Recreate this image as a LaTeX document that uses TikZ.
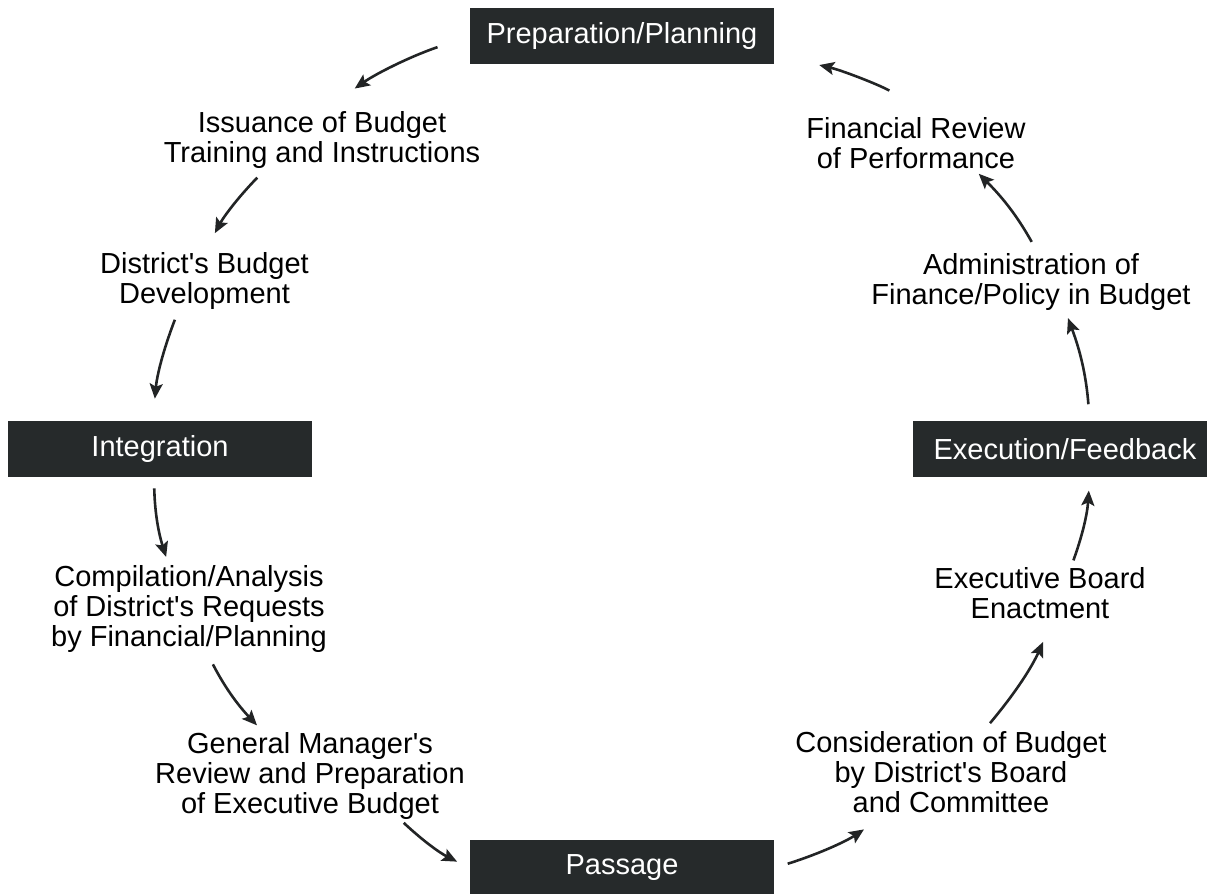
\documentclass[tikz,border=0pt]{standalone}
\usepackage{fontspec}
\setmainfont{Liberation Sans}
\usetikzlibrary{arrows.meta}
\definecolor{stage_fill}{RGB}{38, 42, 43}
\definecolor{flow_line}{RGB}{34, 36, 37}
\tikzstyle{stg}=[fill=stage_fill,text=white,inner sep=0pt,
  minimum width=152pt,minimum height=28pt]
\tikzstyle{tsk}=[align=center,inner sep=0pt]
\tikzstyle{flw}=[draw=flow_line,line width=1.3pt,
  -{Stealth[length=7.5pt,width=6.5pt,inset=1.5pt]},bend right=8]
\newcommand{\apo}{\textquotesingle}

\begin{document}
\begin{tikzpicture}[x=5pt, y=-5pt, every node/.style={font=\fontsize{14.5pt}{15pt}\selectfont}]
        \useasboundingbox (0, 0) rectangle (120.7, 89.4);
        \clip (0, 0) rectangle (120.7, 89.4);
        \node[style=stg] (0) at (62.2, 3.6) {Preparation/Planning};
		\node[style=tsk] (1) at (32.2, 14.05) {Issuance of Budget\\Training and Instructions};
		\node[style=tsk] (2) at (20.45, 28.15) {District\apo s Budget\\Development};
		\node[style=stg] (3) at (16.0, 44.9) {Integration};
		\node[style=tsk] (4) at (18.9, 60.85) {Compilation/Analysis\\of District\apo s Requests\\by Financial/Planning};
		\node[style=tsk] (5) at (31.0, 77.55) {General Manager\apo s\\Review and Preparation\\of Executive Budget};
		\node[style=stg] (6) at (62.2, 86.8) {Passage};
		\node[style=tsk] (7) at (95.1, 77.25) {Consideration of Budget\\by District\apo s Board\\and Committee};
		\node[style=tsk] (8) at (104.0, 59.3) {Executive Board\\Enactment};
		\node[style=stg] (9) at (106.5, 44.9) {Execution/Feedback};
		\node[style=tsk] (10) at (103.1, 28.25) {Administration of\\Finance/Policy in Budget};
		\node[style=tsk] (11) at (91.6, 14.35) {Financial Review\\of Performance};
        % arrows round the cycle
		\draw [style=flw, shorten <=17pt, shorten >=20pt] (0.west) to (1.north);
		\draw [style=flw, shorten <=5.7pt, shorten >=11pt] (1.207) to (2.north);
		\draw [style=flw, shorten <=5pt, shorten >=11pt] (2.228) to (3.104);
		\draw [style=flw, shorten <=5.5pt, shorten >=4pt] (3.258) to (4.115);
		\draw [style=flw, shorten <=6.7pt, shorten >=4.3pt] (4.292) to (5.137);
		\draw [style=flw, shorten <=2.5pt, shorten >=7pt] (5.334) to (6.west);
		\draw [style=flw, shorten <=7pt, shorten >=14.3pt] (6.east) to (7.213);
		\draw [style=flw, shorten <=5.4pt, shorten >=12.5pt] (7.52) to (8.297);
		\draw [style=flw, shorten <=3.5pt, shorten >=6.6pt] (8.40) to (9.311);
		\draw [style=flw, shorten <=8.2pt, shorten >=3.6pt] (9.49) to (10.320);
		\draw [style=flw, shorten <=6.7pt, shorten >=3pt] (10.76) to (11.336);
		\draw [style=flw, shorten <=27.7pt, shorten >=23pt] (11.50) to (0.353);
    \end{tikzpicture}
\end{document}
